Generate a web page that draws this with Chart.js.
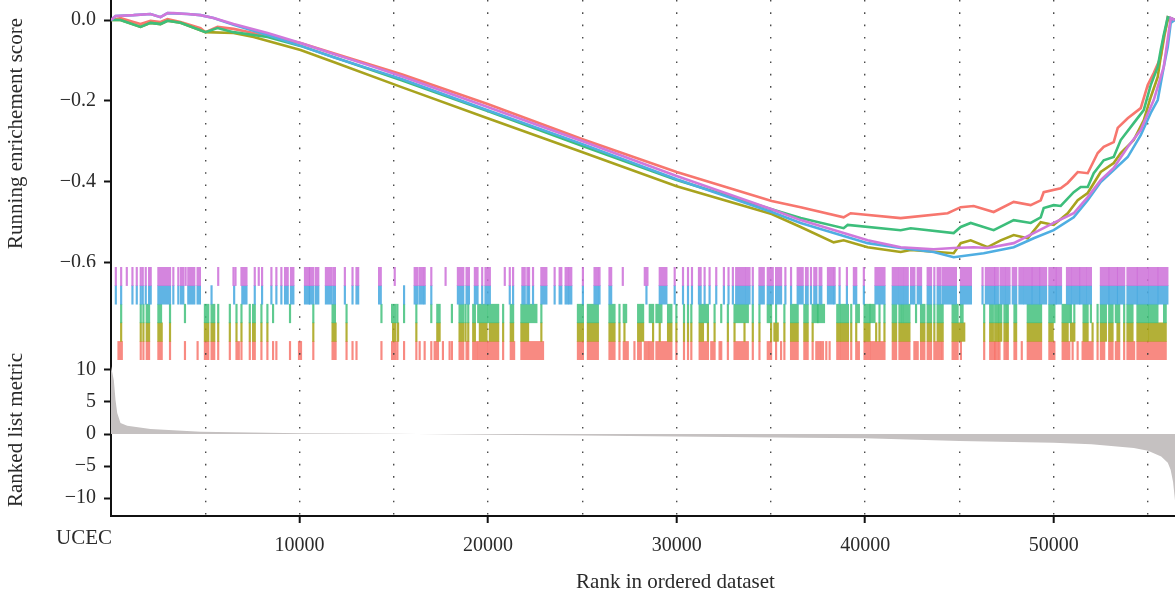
<!DOCTYPE html>
<html>
<head>
<meta charset="utf-8">
<script src="https://cdn.jsdelivr.net/npm/chart.js"></script>
<style>
  html, body { margin: 0; padding: 0; background: #fff; width: 1175px; height: 599px; overflow: hidden; }
  #wrap { position: relative; width: 1240px; height: 599px; }
  canvas { position: absolute; left: 0; }
</style>
</head>
<body>
<div id="wrap">
  <canvas id="es" width="1240" height="267" style="top:0;width:1240px;height:267px"></canvas>
  <canvas id="rug" width="1240" height="93" style="top:267px;width:1240px;height:93px"></canvas>
  <canvas id="metric" width="1240" height="255" style="top:344px;width:1240px;height:255px"></canvas>
</div>
<script>
// x axis (rank) setup
const X_MAX = 59880
const gridTicks = [5000, 10000, 15000, 20000, 25000, 30000, 35000, 40000, 45000, 50000, 55000]
const labelTicks = [10000, 20000, 30000, 40000, 50000]
const esTicks = [0, -0.2, -0.4, -0.6]
const metricTicks = [10, 5, 0, -5, -10]
const datasetName = 'UCEC'

const setNames = ['purple', 'blue', 'green', 'olive', 'red']
const lineColors = ['#D078DB', '#4FAEE2', '#3DBE7B', '#A8A31E', '#F7766E']
const rugColors = ['rgba(204,112,216,0.85)', 'rgba(74,170,224,0.88)', 'rgba(60,190,120,0.82)', 'rgba(166,162,20,0.85)', 'rgba(247,112,102,0.82)']

// running enrichment score, [rank, score]
const esPurple = [[0,0],[239,0.010],[1194,0.012],[2095,0.015],[2626,0.007],[2997,0.017],[3316,0.017],[4058,0.015],[4748,0.012],[5438,0.005],[6499,-0.010],[8302,-0.032],[10053,-0.057],[11804,-0.084],[13608,-0.111],[15412,-0.139],[19974,-0.215],[25012,-0.300],[30000,-0.386],[35040,-0.468],[36578,-0.495],[40132,-0.545],[41882,-0.562],[43633,-0.567],[44694,-0.564],[45755,-0.562],[46498,-0.564],[47877,-0.552],[48938,-0.527],[49999,-0.502],[51060,-0.478],[51803,-0.438],[52493,-0.396],[53182,-0.366],[53925,-0.314],[54615,-0.272],[55304,-0.198],[55835,-0.116],[56206,0.005],[56420,0]]
const esBlue = [[0,0],[239,0.010],[1194,0.012],[2095,0.015],[2626,0.007],[2997,0.017],[4058,0.015],[4748,0.012],[5438,0.005],[6499,-0.012],[8302,-0.037],[10053,-0.064],[11804,-0.092],[13608,-0.119],[15412,-0.146],[19974,-0.223],[25012,-0.307],[30000,-0.394],[35040,-0.475],[36578,-0.502],[40132,-0.552],[41882,-0.564],[43633,-0.574],[44694,-0.587],[46286,-0.577],[47877,-0.562],[48938,-0.540],[49999,-0.520],[51060,-0.488],[51803,-0.446],[52493,-0.401],[53182,-0.371],[53925,-0.339],[54615,-0.285],[55145,-0.230],[55516,-0.198],[55835,-0.116],[56047,-0.067],[56206,-0.007],[56420,0]]
const esGreen = [[0,0],[504,0],[1565,-0.017],[2095,-0.007],[2626,-0.010],[2997,-0.002],[3687,-0.007],[5013,-0.030],[5650,-0.020],[6499,-0.030],[8302,-0.042],[10053,-0.064],[15412,-0.149],[19974,-0.225],[25012,-0.312],[30000,-0.396],[35040,-0.468],[36578,-0.490],[38859,-0.515],[39071,-0.507],[41882,-0.520],[42413,-0.515],[44694,-0.527],[45066,-0.512],[45596,-0.502],[46816,-0.520],[47877,-0.495],[48779,-0.502],[49310,-0.488],[49469,-0.465],[49999,-0.458],[50371,-0.460],[51060,-0.426],[51432,-0.413],[51803,-0.413],[52121,-0.379],[52652,-0.347],[53182,-0.339],[53554,-0.297],[54243,-0.255],[54774,-0.223],[55145,-0.161],[55516,-0.116],[55676,-0.074],[55835,-0.037],[56047,0.007],[56250,0.004],[56420,0]]
const esOlive = [[0,0],[504,0],[1565,-0.017],[2095,-0.007],[2626,-0.010],[2997,-0.002],[3687,-0.007],[5013,-0.030],[6499,-0.032],[7560,-0.042],[10053,-0.074],[11804,-0.104],[15412,-0.166],[19974,-0.243],[25012,-0.327],[30000,-0.411],[35040,-0.480],[36578,-0.512],[38329,-0.550],[38859,-0.545],[40132,-0.562],[41882,-0.574],[42413,-0.569],[44694,-0.577],[45066,-0.552],[45596,-0.545],[46498,-0.562],[47187,-0.545],[47877,-0.532],[48620,-0.540],[49310,-0.500],[49999,-0.507],[50742,-0.478],[51273,-0.446],[51803,-0.428],[52493,-0.376],[53182,-0.354],[53554,-0.329],[54243,-0.297],[54774,-0.248],[55145,-0.191],[55516,-0.141],[55835,-0.042],[56047,0],[56420,0]]
const esRed = [[0,0],[504,0.005],[1194,-0.005],[1565,-0.010],[2095,-0.002],[2626,-0.005],[2997,0.002],[3687,-0.005],[4748,-0.020],[5013,-0.030],[5650,-0.017],[6499,-0.022],[7560,-0.032],[10053,-0.057],[11804,-0.082],[15412,-0.134],[19974,-0.208],[25012,-0.295],[30000,-0.376],[35040,-0.448],[36578,-0.463],[38859,-0.488],[39230,-0.478],[41882,-0.490],[44376,-0.478],[45066,-0.463],[45755,-0.460],[46816,-0.475],[47877,-0.450],[48779,-0.458],[49310,-0.446],[49469,-0.426],[50371,-0.416],[50742,-0.403],[51273,-0.376],[51803,-0.379],[52334,-0.329],[52652,-0.314],[53182,-0.302],[53395,-0.267],[53925,-0.243],[54615,-0.218],[54986,-0.161],[55304,-0.131],[55676,-0.092],[55835,-0.050],[56047,0.007],[56250,0.004],[56420,0]]

// hit positions (single rank or [from, to] runs of hits)
const rugPurple = [256,538,838,1137,1367,1578,1684,1843,2019,2107,[2513,3130],3306,3570,[3711,3835],3958,[4099,4417],[4593,4716],5686,6497,6603,[6920,7184],7625,7837,8013,8507,8771,9036,
  [9231,9372],[9548,9672],[10289,10500],[10553,10730],[10871,10994],[11399,11664],[11787,11876],12404,12810,[13021,13110],[14220,14308],15049,[16107,16248],[16371,16547],16636,16988,17746,[18399,18682],
  [18858,18982],[19299,19440],19687,[19863,20093],20886,21150,21327,[21820,21944],22085,22173,22384,[22825,23090],23530,[23795,23883],[24112,24236],[24324,24412],25029,[25646,25822],25910,[26439,26528],27145,
  [28311,28452],[29104,29457],29897,30338,30603,30814,[31184,31272],31484,31748,32101,32507,32753,32983,[33159,33600],[33688,33864],34040,[34393,34622],[34834,35098],[35274,35539],35768,36068,[36420,36685],[36861,36949],37126,[37302,37409],
  [37585,37674],[38026,38291],38379,38643,39031,[39401,39525],39930,[40547,41023],[41464,41729],[41817,41993],[42081,42257],[42434,42522],42610,[42786,42963],[43315,43492],43668,[43844,43985],[44109,44814],[45078,45607],46224,[46400,46841],
  [46896,47037],[47178,47389],[47477,47654],[47830,48006],[48183,48359],[48447,48820],[48880,49230],[49290,49593],[49769,50100],[50160,50386],[50704,50915],[51003,51350],[51410,51709],[51797,51973],[52502,52900],[52960,53350],[53410,53736],[53912,54400],[54460,54970],[55058,55500],[55560,56028]]
const rugBlue = [256,538,1137,1367,1578,1684,1843,2019,2107,[2513,3130],3306,3570,[3711,3835],[4099,4417],[4593,4716],5333,6532,[6965,7184],7625,8013,8507,8771,9036,
  [9231,9372],[9548,9672],[10289,10500],[10553,10730],[10871,10994],[11399,11664],[11787,11876],12404,12810,[13021,13110],[14220,14308],15543,[16107,16248],[16371,16547],16636,16988,[18399,18682],
  [18858,18982],[19299,19440],19687,[19863,20093],21150,21327,[21820,21944],22085,22173,22384,[22825,23090],23530,[23795,23883],[24112,24236],[24324,24412],25029,[25646,25822],25910,[26439,26528],
  28399,[29104,29457],29897,30338,30603,30814,[31184,31272],31484,31748,32101,32507,32753,32983,[33159,33600],[33688,33864],34040,[34393,34622],[34834,35098],[35274,35539],35768,36068,[36420,36685],[36861,36949],37126,[37302,37409],
  [37585,37674],[38026,38291],38379,38643,39031,[39401,39525],39930,[40547,41023],[41464,41729],[41817,41993],[42081,42257],[42434,42522],42610,[42786,42963],[43315,43492],43668,[43844,43985],[44109,44814],[45078,45607],46224,[46400,46841],
  [46896,47037],[47178,47389],[47477,47654],[47830,48006],[48183,48359],[48447,48820],[48880,49230],[49290,49593],[49769,50100],[50160,50386],[50704,50915],[51003,51350],[51410,51709],[51797,51973],[52502,52900],[52960,53350],[53410,53736],[53912,54400],[54460,54970],[55058,55500],[55560,56028]]
const rugGreen = [538,1578,1719,[1895,2019],[2513,2654],3130,3923,[4981,5157],[5333,5474],5686,6303,6656,6920,7361,[7537,7625],7978,8295,8595,
  9495,10730,[11752,11876],12493,14344,[14908,15084],15190,15543,16195,16988,[17306,17429],18081,[18487,18682],
  18806,18947,[19211,19299],[19476,19916],[20004,20533],20798,[21203,21327],[21767,22561],22825,[24765,25029],[25293,25822],[26439,26704],26968,[27197,27321],
  [27958,28222],[28575,28751],[28928,29192],[29545,29721],29985,30391,30603,30779,[31220,31660],32013,32366,32718,[33071,33776],34040,34393,[34834,35010],35274,35715,[36068,36420],[36773,36949],[37214,37478],
  [37497,37815],[38520,38643],[38731,39084],39260,[39525,39666],[39966,40230],[40283,40494],40759,41023,[41464,41640],[41817,41905],41993,[42081,42346],42698,[42963,43139],[43315,43492],43668,[43844,44109],[44637,44902],[45078,45166],46312,
  [46630,46772],[46896,47037],[47125,47213],[47389,47477],47566,[47918,48006],[48623,49329],[49769,50034],[50474,50827],50915,51092,[51585,51797],51973,52326,[52502,52766],[52943,53119],[53295,53472],53736,[53912,54177],[54441,54970],[55058,55499],[55852,55940]]
const rugOlive = [538,1578,1719,[1895,2019],[2513,2689],3130,[4981,5157],[5333,5474],5686,6303,6656,6920,7361,[7537,7625],7978,8295,
  10730,[11752,11911],12493,[14961,15084],15225,16195,[17306,17429],[18487,18682],
  18806,18947,[19211,19299],[19564,19916],[20093,20533],20798,[21203,21327],[21767,22120],22825,[24765,25029],[25293,25822],[26439,26704],26968,27233,
  [27958,28222],28751,29104,[29545,29721],29985,30391,30603,30779,[31220,31396],31660,32013,32718,33071,33600,34040,34393,35010,[35186,35362],35715,[36068,36420],[36773,36949],37214,
  [38520,38643],[38731,39084],39260,39525,[39966,40230],40583,40759,41023,[41464,41640],[41817,42346],[42963,43139],[43315,43492],43668,[43844,44109],[44637,45254],46312,
  [46630,46772],[46896,47037],[47125,47213],[47389,47477],47566,[47918,48006],[48623,49329],[49769,49945],[50474,50739],[50915,51092],[51585,51797],52061,52326,[52502,52766],[52943,53119],[53383,53472],53736,[53912,54177],[54441,54970],[55058,55940]]
const rugRed = [[397,573],1578,1719,[1895,2019],[2513,2689],3130,3923,4593,[4981,5157],[5333,5474],5686,6303,[6656,6779],6920,7361,[7537,7625],7978,8295,8595,8771,
  9495,[9971,10077],10730,[11752,11911],12493,12810,13021,14344,[14908,15084],15190,15543,16195,16371,16636,16988,[17164,17341],17605,17958,18081,[18487,18682],
  18858,18947,[19211,19387],[19476,19916],[20004,20533],20798,[21203,21380],[21767,22913],[24765,25029],[25293,25822],[26439,26704],26968,[27197,27409],27762,
  [27958,28099],[28311,28487],[28575,28751],[28928,29721],29985,30391,30603,30779,[31220,31660],[31836,32013],32277,32366,32718,[33071,33776],34040,34393,[34834,35010],35274,35539,35715,[36068,36420],[36773,36949],37214,
  [37409,37585],[37674,37762],37938,38114,[38520,38643],[38731,39084],39260,[39525,39666],[39966,40230],[40318,41023],[41464,41640],[41817,42346],[42610,42786],[42963,43139],[43315,43492],[43668,44020],44109,[44637,44902],45078,46312,
  [46630,46860],[46896,47037],47125,[47389,47477],47566,[47918,48006],48306,[48623,49329],[49769,50034],[50474,50827],51003,51268,[51532,52061],52326,[52502,52678],[52943,53119],[53295,53472],53736,[53912,54265],[54441,55940]]

// ranked list metric
const metricRanks = [0, 150, 240, 330, 504, 860, 2095, 4748, 10053, 15000, 20000, 25000, 30000, 36578, 40000, 45000, 50000, 52000, 54250, 55000, 55700, 56050, 56200, 56330, 56420, 56450]
const metricValues = [10.6, 8.4, 5.3, 3.3, 1.7, 1.3, 0.8, 0.36, 0.1, 0.02, -0.1, -0.25, -0.4, -0.57, -0.68, -1.1, -1.35, -1.6, -2.2, -2.6, -3.5, -4.5, -5.6, -7.5, -10, -11]

const FONT = '"Liberation Serif", "DejaVu Serif", serif'
const TEXT = '#2a2a2a'
const AXIS_LEFT = 111
const HIT_HALF = 40

Chart.defaults.font.family = FONT
Chart.defaults.color = TEXT
Chart.defaults.animation = false

const minus = v => (v < 0 ? '\u2212' : '') + Math.abs(v)

// stop chart.js from reserving room for half tick labels at the edges
function noEdgePadding(ax) {
  ax.paddingTop = 0
  ax.paddingBottom = 0
  ax.paddingLeft = 0
  ax.paddingRight = 0
}

function rankAxis(bottom, dashOffset) {
  return {
    type: 'linear', min: 0, max: X_MAX,
    afterBuildTicks: ax => { ax.ticks = gridTicks.map(v => ({ value: v })) },
    afterFit: ax => { ax.height = bottom ? 83 : 0; noEdgePadding(ax) },
    grid: {
      color: '#4a4a4a', lineWidth: 1.4,
      drawTicks: bottom, tickLength: 7, tickWidth: 2,
      tickColor: c => labelTicks.includes(c.tick && c.tick.value) ? '#111' : 'rgba(0,0,0,0)'
    },
    border: { display: bottom, color: '#111', width: 2, dash: [1.6, 10.7], dashOffset: dashOffset || 0 },
    ticks: {
      display: bottom, padding: 11, font: { size: 20 }, color: TEXT,
      callback: v => labelTicks.includes(v) ? String(v) : ''
    },
    title: {
      display: bottom, text: 'Rank in ordered dataset',
      font: { size: 21 }, color: TEXT, padding: { top: 0, bottom: 4 }
    }
  }
}

const noPlugins = { legend: { display: false }, tooltip: { enabled: false } }

// top: running enrichment score
const esSeries = [esPurple, esBlue, esGreen, esOlive, esRed]
new Chart(document.getElementById('es'), {
  type: 'line',
  data: {
    datasets: esSeries.map((s, i) => ({
      label: setNames[i],
      data: s.map(p => ({ x: p[0], y: p[1] })),
      borderColor: lineColors[i], borderWidth: 2.6,
      pointRadius: 0, tension: 0, fill: false
    }))
  },
  options: {
    responsive: false,
    layout: { padding: 0 },
    plugins: noPlugins,
    scales: {
      x: rankAxis(false),
      y: {
        min: -0.611, max: 0.0495,
        afterBuildTicks: ax => { ax.ticks = esTicks.map(v => ({ value: v })) },
        afterFit: ax => { ax.width = AXIS_LEFT; noEdgePadding(ax) },
        grid: { drawOnChartArea: false, tickLength: 7, tickWidth: 2, tickColor: '#111' },
        border: { color: '#111', width: 2 },
        ticks: { padding: 8, font: { size: 20 }, color: TEXT,
          callback: v => (v < 0 ? '\u2212' : '') + Math.abs(v).toFixed(1) },
        title: { display: true, text: 'Running enrichement score', font: { size: 21 }, color: TEXT, padding: { top: 4, bottom: 0 } }
      }
    }
  }
})

// middle: hit rug
const rugSets = [rugPurple, rugBlue, rugGreen, rugOlive, rugRed]
new Chart(document.getElementById('rug'), {
  type: 'bar',
  data: {
    labels: setNames,
    datasets: rugSets.map((hits, i) => ({
      label: setNames[i],
      data: hits.map(h => ({ y: setNames[i], x: Array.isArray(h) ? [h[0] - HIT_HALF, h[1] + HIT_HALF] : [h - HIT_HALF, h + HIT_HALF] })),
      backgroundColor: rugColors[i], borderWidth: 0, borderSkipped: false,
      grouped: false, barPercentage: 1, categoryPercentage: 1
    }))
  },
  options: {
    responsive: false,
    indexAxis: 'y',
    layout: { padding: 0 },
    plugins: noPlugins,
    scales: {
      x: rankAxis(false),
      y: {
        type: 'category',
        afterFit: ax => { ax.width = AXIS_LEFT; noEdgePadding(ax) },
        grid: { display: false },
        border: { color: '#111', width: 2 },
        ticks: { display: false }
      }
    }
  }
})

// bottom: ranked list metric
const datasetLabel = {
  id: 'datasetLabel',
  afterDraw(chart) {
    const ctx = chart.ctx
    ctx.save()
    ctx.font = '21px ' + FONT
    ctx.fillStyle = TEXT
    ctx.textAlign = 'right'
    ctx.textBaseline = 'middle'
    ctx.fillText(datasetName, chart.scales.x.getPixelForValue(0) + 1, chart.chartArea.bottom + 22)
    ctx.restore()
  }
}

new Chart(document.getElementById('metric'), {
  type: 'line',
  data: {
    datasets: [{
      label: 'metric',
      data: metricRanks.map((r, i) => ({ x: r, y: metricValues[i] })),
      borderColor: 'rgba(0,0,0,0)', borderWidth: 0,
      backgroundColor: '#c5c1c1', fill: 'origin',
      pointRadius: 0, tension: 0
    }]
  },
  options: {
    responsive: false,
    layout: { padding: 0 },
    plugins: noPlugins,
    scales: {
      x: rankAxis(true, 3.2),
      y: {
        min: -12.81, max: 14.06,
        afterBuildTicks: ax => { ax.ticks = metricTicks.map(v => ({ value: v })) },
        afterFit: ax => { ax.width = AXIS_LEFT; noEdgePadding(ax) },
        grid: { drawOnChartArea: false, tickLength: 7, tickWidth: 2, tickColor: '#111' },
        border: { color: '#111', width: 2 },
        ticks: { padding: 8, font: { size: 20 }, color: TEXT, callback: minus },
        title: { display: true, text: 'Ranked list metric', font: { size: 21 }, color: TEXT, padding: { top: 4, bottom: 0 } }
      }
    }
  },
  plugins: [datasetLabel]
})
</script>
</body>
</html>
